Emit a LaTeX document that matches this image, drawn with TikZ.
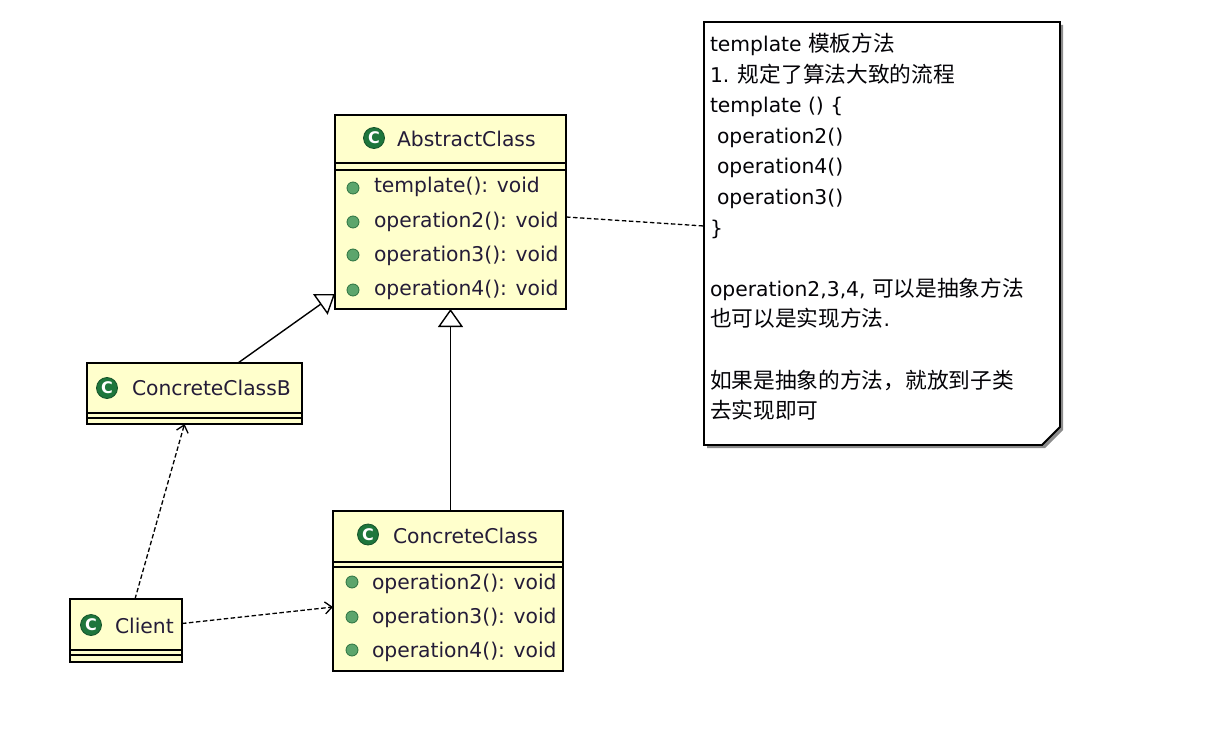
\documentclass[tikz,border=0pt]{standalone}
\usepackage{fontspec}
\setmainfont{DejaVu Sans}
\newfontfamily\cjk{Noto Sans CJK SC}
\usetikzlibrary{arrows.meta,calc}
\definecolor{umlfill}{RGB}{255,255,204}
\definecolor{umltext}{RGB}{36,28,56}
\definecolor{icongreen}{RGB}{30,118,60}
\definecolor{dotgreen}{RGB}{92,165,108}
\definecolor{dotedge}{RGB}{45,115,65}
\newcommand\zh[1]{{\cjk\fontsize{21.7pt}{26pt}\selectfont #1}}
\begin{document}
\begin{tikzpicture}[x=1pt,y=-1pt,
  every node/.style={inner sep=0pt, outer sep=0pt},
  classbox/.style={draw=black, line width=1.8pt, fill=umlfill, rectangle},
  sepline/.style={line width=1.5pt, draw=black},
  label/.style={anchor=base west, text=umltext, font=\fontsize{20.3pt}{24pt}\selectfont},
  icon/.style={circle, fill=icongreen, draw=icongreen!70!black, line width=0.8pt, minimum size=21pt, text=white, font=\bfseries\fontsize{16pt}{16pt}\selectfont},
  dot/.style={circle, fill=dotgreen, draw=dotedge, line width=0.8pt, minimum size=12pt},
  gen/.style={line width=1.4pt, -{Triangle[open,length=18pt,width=25pt,line width=1.4pt]}},
  dep/.style={line width=1.3pt, dash pattern=on 4.5pt off 2.5pt, -{Straight Barb[length=7pt,width=12pt,line width=1.3pt]}},
  notelink/.style={line width=1.3pt, dash pattern=on 4.5pt off 2.5pt},
  notetext/.style={anchor=base west, text=black!88!umltext, font=\fontsize{20.3pt}{24pt}\selectfont}
]
\useasboundingbox[fill=white] (0,0) rectangle (1222,746);

% ---------- AbstractClass ----------
\node[classbox, minimum width=231pt, minimum height=194pt] (ac) at (450.5,212) {};
\draw[sepline] ($(ac.north west)+(0,48)$) -- ($(ac.north east)+(0,48)$);
\draw[sepline] ($(ac.north west)+(0,55)$) -- ($(ac.north east)+(0,55)$);
\node[icon] (acicon) at (374,138) {C};
\node[label] (acname) at (397,146.5) {AbstractClass};
\node[dot] (acd1) at (353,188) {};
\node[dot] (acd2) at (353,222) {};
\node[dot] (acd3) at (353,255) {};
\node[dot] (acd4) at (353,290) {};
\node[label] (acm1) at (374,193) {template(): void};
\node[label] (acm2) at (374,227) {operation2(): void};
\node[label] (acm3) at (374,261) {operation3(): void};
\node[label] (acm4) at (374,295.5) {operation4(): void};

% ---------- ConcreteClass ----------
\node[classbox, minimum width=230pt, minimum height=160pt] (cc) at (448,591) {};
\draw[sepline] ($(cc.north west)+(0,51)$) -- ($(cc.north east)+(0,51)$);
\draw[sepline] ($(cc.north west)+(0,56)$) -- ($(cc.north east)+(0,56)$);
\node[icon] (ccicon) at (368,534.5) {C};
\node[label] (ccname) at (393,543) {ConcreteClass};
\node[dot] (ccd1) at (352,582) {};
\node[dot] (ccd2) at (352,617) {};
\node[dot] (ccd3) at (352,650) {};
\node[label] (ccm1) at (372,589.5) {operation2(): void};
\node[label] (ccm2) at (372,623) {operation3(): void};
\node[label] (ccm3) at (372,657) {operation4(): void};

% ---------- ConcreteClassB ----------
\node[classbox, minimum width=215pt, minimum height=61pt] (ccb) at (194.5,393.5) {};
\draw[sepline] ($(ccb.north west)+(0,50)$) -- ($(ccb.north east)+(0,50)$);
\draw[sepline] ($(ccb.north west)+(0,55)$) -- ($(ccb.north east)+(0,55)$);
\node[icon] (ccbicon) at (107,388) {C};
\node[label] (ccbname) at (132,395) {ConcreteClassB};

% ---------- Client ----------
\node[classbox, minimum width=112pt, minimum height=63pt] (client) at (126,630.5) {};
\draw[sepline] ($(client.north west)+(0,51)$) -- ($(client.north east)+(0,51)$);
\draw[sepline] ($(client.north west)+(0,56)$) -- ($(client.north east)+(0,56)$);
\node[icon] (clicon) at (91,625) {C};
\node[label] (clname) at (115,633) {Client};

% ---------- Note ----------
\node[minimum width=356pt, minimum height=423pt] (note) at (882,233.5) {};
\fill[black!45] ($(note.north west)+(3,3)$) -- ($(note.north east)+(3,3)$)
  -- ($(note.south east)+(3,-15)$) -- ($(note.south east)+(-15,3)$)
  -- ($(note.south west)+(3,3)$) -- cycle;
\draw[line width=1.8pt, fill=white] (note.north west) -- (note.north east)
  -- ($(note.south east)+(0,-18)$) -- ($(note.south east)+(-18,0)$)
  -- (note.south west) -- cycle;
\foreach \k/\txt in {
  0/{template \zh{模板方法}},
  1/{1. \zh{规定了算法大致的流程}},
  2/{template () \{},
  3/{\hspace*{7pt}operation2()},
  4/{\hspace*{7pt}operation4()},
  5/{\hspace*{7pt}operation3()},
  6/{\}},
  8/{operation2,3,4, \zh{可以是抽象方法}},
  9/{\zh{也可以是实现方法}.},
  11/{\zh{如果是抽象的方法，就放到子类}},
  12/{\zh{去实现即可}}}
{
  \node[notetext] (nl\k) at ($(note.north west)+(6,29.5+30.6*\k)$) {\txt};
}

% ---------- Connectors ----------
\draw[gen] ($(ccb.north east)+(-64,0)$) -- ($(ac.south west)+(0,-15)$);
\draw[gen] (ac.south |- cc.north) -- (ac.south);
\draw[dep] ($(client.north)+(9,0)$) -- ($(ccb.south)+(-10,0)$);
\draw[dep] ($(client.east)+(0,-7)$) -- ($(cc.west)+(0,16)$);
\draw[notelink] ($(ac.east)+(0,5)$) -- ($(note.west)+(0,-7.5)$);
\end{tikzpicture}
\end{document}
